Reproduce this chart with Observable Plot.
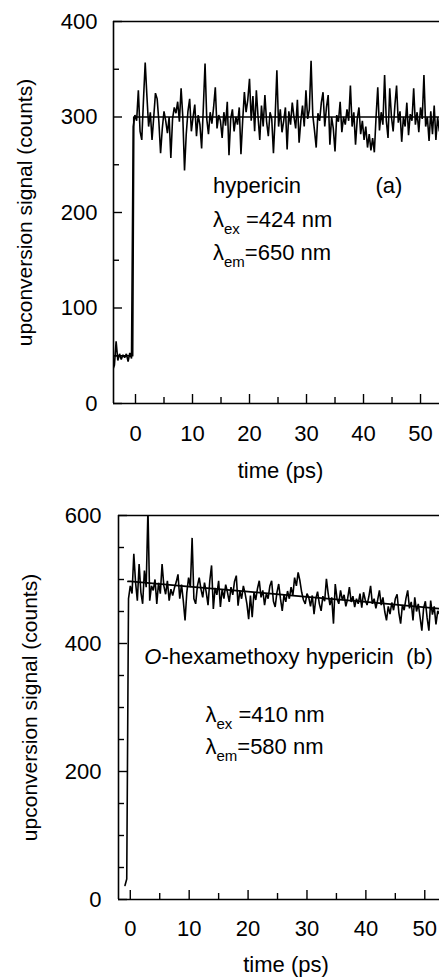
<!DOCTYPE html>
<html>
<head>
<meta charset="utf-8">
<script src="https://cdn.jsdelivr.net/npm/d3@7"></script>
<script src="https://cdn.jsdelivr.net/npm/@observablehq/plot@0.6"></script>
<style>
  html, body { margin: 0; padding: 0; background: #fff; }
  #wrap { position: relative; width: 439px; height: 977px; overflow: hidden; background: #fff; }
  .panel { position: absolute; left: 0; }
</style>
</head>
<body>
<div id="wrap">
  <div class="panel" id="pa" style="top:0px"></div>
  <div class="panel" id="pb" style="top:490px"></div>
</div>
<script>
// ---------- Panel (a): hypericin ----------
const aStart = -4.0;      // time of first sample (ps)
const aStep = 0.3;        // sampling step (ps)
const aSignal = [
  35, 40, 65, 45, 52, 46, 51, 48, 52, 44, 53, 47,
  290, 302, 296, 328, 285, 276, 318, 357, 322, 290,
  305, 276, 300, 325, 319, 295, 262, 288, 306, 296,
  283, 300, 257, 298, 310, 304, 316, 295, 330, 300,
  244, 282, 306, 319, 285, 300, 313, 280, 302, 292,
  267, 310, 356, 298, 282, 305, 293, 310, 331, 288,
  302, 296, 278, 305, 291, 316, 260, 298, 308, 285,
  300, 292, 310, 261, 296, 326, 305, 318, 340, 296,
  322, 285, 328, 300, 276, 312, 290, 323, 295, 280,
  305, 298, 262, 300, 349, 290, 308, 284, 296, 310,
  266, 306, 292, 315, 300, 288, 318, 273, 296, 312,
  290, 328, 298, 308, 359, 302, 286, 268, 304, 296,
  315, 326, 290, 310, 323, 271, 300, 288, 264, 302,
  295, 316, 284, 300, 292, 308, 296, 333, 290, 305,
  271, 298, 310, 282, 296, 276, 290, 268, 282, 265,
  278, 263, 300, 331, 286, 305, 292, 344, 296, 278,
  330, 300, 285, 312, 333, 294, 306, 274, 300, 290,
  315, 281, 303, 296, 330, 292, 305, 284, 310, 298,
  344, 290, 300, 275, 306, 282, 312, 276, 300, 285, 296
];
const aFitT = [-4.0, -0.5, -0.3, 53.6];
const aFitV = [50, 50, 300, 300];
const aXDomain = [-3.86, 53.33];
const aYDomain = [0, 400];
const aXMajor = [0, 10, 20, 30, 40, 50];
const aXMinor = [5, 15, 25, 35, 45];
const aYMajor = [0, 100, 200, 300, 400];
const aYMinor = [50, 150, 250, 350];

// ---------- Panel (b): O-hexamethoxy hypericin ----------
const bStart = -0.9;
const bStep = 0.3;
const bSignal = [
  22, 32, 470, 490, 478, 540, 495, 467, 524, 480,
  462, 514, 488, 610, 467, 490, 483, 500, 462, 495,
  478, 524, 490, 477, 498, 467, 485, 475, 487, 496,
  508, 470, 492, 467, 436, 480, 503, 488, 565, 470,
  462, 490, 503, 485, 472, 495, 480, 460, 498, 522,
  454, 487, 476, 498, 457, 485, 470, 492, 480, 465,
  488, 476, 497, 506, 459, 482, 470, 490, 478, 462,
  438, 475, 441, 480, 468, 486, 498, 472, 483, 460,
  478, 470, 490, 498, 466, 457, 480, 493, 470, 451,
  476, 465, 482, 470, 488, 475, 503, 490, 511, 498,
  480, 468, 462, 478, 472, 458, 475, 446, 470, 481,
  462, 451, 474, 466, 501, 478, 460, 472, 431, 493,
  470, 462, 483, 468, 476, 458, 470, 488, 465, 474,
  457, 470, 462, 478, 456, 480, 468, 460, 473, 490,
  462, 470, 455, 468, 483, 460, 472, 450, 436, 458,
  446, 464, 452, 470, 477, 448, 431, 460, 452, 470,
  483, 455, 465, 436, 472, 450, 462, 441, 420, 455,
  466, 440, 420, 467, 445, 458, 430, 451, 446, 460
];
const bFitT = [-0.4, 0, 10, 20, 30, 40, 52.8];
const bFitV = [497, 497, 489, 481, 473, 465, 454];
const bXDomain = [-2.0, 52.5];
const bYDomain = [0, 600];
const bXMajor = [0, 10, 20, 30, 40, 50];
const bXMinor = [5, 15, 25, 35, 45];
const bYMajor = [0, 200, 400, 600];
const bYMinor = [50, 100, 150, 250, 300, 350, 450, 500, 550];

const yLabel = "upconversion signal (counts)";
const xLabel = "time (ps)";

const FONT = "'Liberation Sans', Arial, Helvetica, sans-serif";

function series(start, step, values) {
  return values.map((v, i) => ({t: start + i * step, v}));
}
function fitRows(ts, vs) { return ts.map((t, i) => ({t, v: vs[i]})); }

function richify(svg) {
  d3.select(svg).selectAll("text").each(function () {
    const s = this.textContent;
    if (!/_\{|\*/.test(s)) return;
    const el = d3.select(this);
    el.text(null);
    const parts = s.split(/(_\{[^}]*\}|\*[^*]*\*)/).filter(p => p);
    let shifted = false;
    for (const p of parts) {
      let t;
      if (p.startsWith("_{")) {
        t = el.append("tspan").attr("dy", 7).attr("font-size", 15).text(p.slice(2, -1));
        shifted = true;
        continue;
      } else if (p.startsWith("*")) {
        t = el.append("tspan").attr("font-style", "italic").text(p.slice(1, -1));
      } else {
        t = el.append("tspan").text(p);
      }
      if (shifted) { t.attr("dy", -7); shifted = false; }
    }
  });
}

function panel(cfg) {
  const svg = Plot.plot({
    width: 439,
    height: cfg.height,
    marginLeft: cfg.marginLeft,
    marginRight: 0,
    marginTop: cfg.marginTop,
    marginBottom: cfg.marginBottom,
    style: {fontFamily: FONT, fontSize: "22px", color: "black", background: "white", overflow: "hidden"},
    x: {domain: cfg.xDomain, axis: null},
    y: {domain: cfg.yDomain, axis: null},
    marks: [
      Plot.line(cfg.fit, {x: "t", y: "v", stroke: "black", strokeWidth: 1.7, clip: true}),
      Plot.line(cfg.data, {x: "t", y: "v", stroke: "black", strokeWidth: 1.6, strokeLinejoin: "miter", clip: true}),
      Plot.ruleX([cfg.xDomain[0]], {stroke: "black", strokeWidth: 1.6}),
      Plot.ruleY([cfg.yDomain[0], cfg.yDomain[1]], {stroke: "black", strokeWidth: 1.6}),
      Plot.axisX({ticks: cfg.xMajor, tickSize: -9, tickPadding: cfg.xPad, fontSize: 22, label: null, strokeWidth: 1.4, tickFormat: d => String(d)}),
      Plot.axisX({ticks: cfg.xMinor, tickSize: -6, tickFormat: () => "", label: null, strokeWidth: 1.4}),
      Plot.axisY({ticks: cfg.yMajor, tickSize: -9, tickPadding: cfg.yPad, fontSize: 22, label: null, strokeWidth: 1.4, tickFormat: d => String(d)}),
      Plot.axisY({ticks: cfg.yMinor, tickSize: -6, tickFormat: () => "", label: null, strokeWidth: 1.4}),
      Plot.text([yLabel], {text: d => d, frameAnchor: "left", rotate: -90, dx: cfg.yLabelDx, fontSize: 21, textAnchor: "middle", lineAnchor: "middle", fill: "black"}),
      Plot.text([xLabel], {text: d => d, frameAnchor: "bottom", dy: cfg.xLabelDy, dx: cfg.xLabelDx, fontSize: 22, textAnchor: "middle", lineAnchor: "middle", fill: "black"}),
      Plot.text(cfg.notes, {x: "x", y: "y", text: "text", textAnchor: "start", lineAnchor: "bottom", fontSize: 22, fill: "black"})
    ]
  });
  richify(svg);
  return svg;
}

document.getElementById("pa").appendChild(panel({
  height: 483, marginLeft: 113, marginTop: 21, marginBottom: 80,
  xDomain: aXDomain, yDomain: aYDomain,
  xMajor: aXMajor, xMinor: aXMinor, yMajor: aYMajor, yMinor: aYMinor,
  xPad: 31, yPad: 25, yLabelDx: -88, xLabelDy: 67, xLabelDx: 4,
  data: series(aStart, aStep, aSignal),
  fit: fitRows(aFitT, aFitV),
  notes: [
    {x: 13.6, y: 220, text: "hypericin"},
    {x: 42.1, y: 220, text: "(a)"},
    {x: 13.6, y: 185, text: "λ_{ex} =424 nm"},
    {x: 13.6, y: 150, text: "λ_{em}=650 nm"}
  ]
}));

document.getElementById("pb").appendChild(panel({
  height: 487, marginLeft: 118, marginTop: 25, marginBottom: 78,
  xDomain: bXDomain, yDomain: bYDomain,
  xMajor: bXMajor, xMinor: bXMinor, yMajor: bYMajor, yMinor: bYMinor,
  xPad: 30, yPad: 26, yLabelDx: -88, xLabelDy: 65, xLabelDx: 7,
  data: series(bStart, bStep, bSignal),
  fit: fitRows(bFitT, bFitV),
  notes: [
    {x: 2.38, y: 368, text: "*O*-hexamethoxy hypericin\u00a0 (b)"},
    {x: 12.76, y: 277, text: "λ_{ex} =410 nm"},
    {x: 12.76, y: 227, text: "λ_{em}=580 nm"}
  ]
}));
</script>
</body>
</html>
